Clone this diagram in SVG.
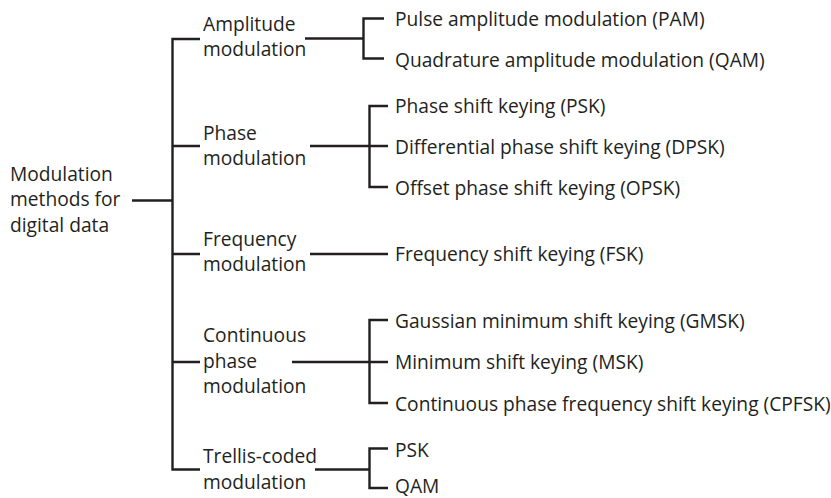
<svg xmlns="http://www.w3.org/2000/svg" width="831" height="498" viewBox="0 0 831 498">
<style>
text{font-family:"Open Sans","Liberation Sans",sans-serif;font-size:19.2px;fill:#231f20}
.c path{fill:none;stroke:#231f20;stroke-width:2.4}
</style>
<rect width="831" height="498" fill="#fff"/>
<g class="c" id="connectors">
<path d="M132 200.5H172.5"/>
<path d="M200 39H172.5V469.5H200"/>
<path d="M172.5 146H200M172.5 254H200M172.5 362H200"/>
<path d="M305 38.5H363.5"/>
<path d="M384 18.5H363.5V58.5H384"/>
<path d="M310 146H388"/>
<path d="M388 106H369.5V187H388"/>
<path d="M310 254H388"/>
<path d="M292 362H388"/>
<path d="M388 320H369.5V403H388"/>
<path d="M315 469.5H369.5"/>
<path d="M388 448.5H369.5V488H388"/>
</g>
<g id="root"><text x="10" y="180.5">Modulation</text><text x="10" y="206">methods for</text><text x="10" y="231.5">digital data</text></g>
<g id="amp"><text x="203" y="30.5">Amplitude</text><text x="203" y="56">modulation</text></g>
<g id="phase"><text x="203" y="139.5">Phase</text><text x="203" y="165">modulation</text></g>
<g id="freq"><text x="203" y="245.5">Frequency</text><text x="203" y="271">modulation</text></g>
<g id="cont"><text x="203" y="342">Continuous</text><text x="203" y="367.5">phase</text><text x="203" y="393">modulation</text></g>
<g id="trellis"><text x="203" y="463">Trellis-coded</text><text x="203" y="488.5">modulation</text></g>
<g id="pam"><text x="395" y="25.5">Pulse amplitude modulation (PAM)</text></g>
<g id="qam"><text x="395" y="66.5">Quadrature amplitude modulation (QAM)</text></g>
<g id="psk"><text x="395" y="113">Phase shift keying (PSK)</text></g>
<g id="dpsk"><text x="395" y="153.5">Differential phase shift keying (DPSK)</text></g>
<g id="opsk"><text x="395" y="194.5">Offset phase shift keying (OPSK)</text></g>
<g id="fsk"><text x="395" y="261">Frequency shift keying (FSK)</text></g>
<g id="gmsk"><text x="395" y="327.5">Gaussian minimum shift keying (GMSK)</text></g>
<g id="msk"><text x="395" y="369">Minimum shift keying (MSK)</text></g>
<g id="cpfsk"><text x="395" y="410.5">Continuous phase frequency shift keying (CPFSK)</text></g>
<g id="tpsk"><text x="395" y="456.5">PSK</text></g>
<g id="tqam"><text x="395" y="492.5">QAM</text></g>
</svg>
